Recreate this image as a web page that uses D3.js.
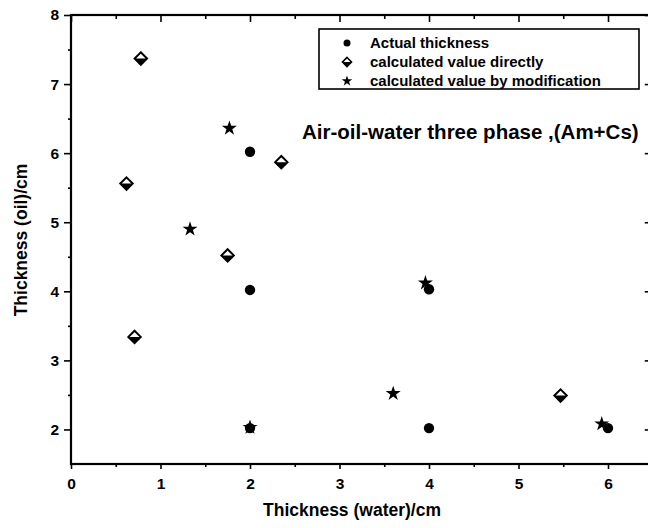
<!DOCTYPE html>
<html><head><meta charset="utf-8">
<script src="https://cdn.jsdelivr.net/npm/d3@7/dist/d3.min.js"></script>
<style>html,body{margin:0;padding:0;background:#fff;}svg{display:block;font-family:"Liberation Sans",Arial,sans-serif;}</style>
</head><body>
<svg id="c" width="648" height="528"></svg>
<script>
// ---- data ----
const actualX = [2.0, 2.0, 2.0, 4.0, 4.0, 6.0];
const actualY = [6.02, 4.02, 2.02, 4.03, 2.02, 2.02];
const directX = [0.78, 0.62, 0.71, 1.75, 2.35, 5.47];
const directY = [7.37, 5.56, 3.34, 4.52, 5.87, 2.49];
const modX = [1.77, 1.33, 2.0, 3.6, 3.96, 5.93];
const modY = [6.36, 4.9, 2.03, 2.52, 4.12, 2.08];
const seriesNames = ["Actual thickness", "calculated value directly", "calculated value by modification"];
const xTicks = [0, 1, 2, 3, 4, 5, 6];
const xMinor = [0.5, 1.5, 2.5, 3.5, 4.5, 5.5];
const yTicks = [2, 3, 4, 5, 6, 7, 8];
const yMinor = [2.5, 3.5, 4.5, 5.5, 6.5, 7.5];
const xTitle = "Thickness (water)/cm";
const yTitle = "Thickness (oil)/cm";
const annotation = "Air-oil-water three phase ,(Am+Cs)";

const svg = d3.select("#c");
const L = 71, R = 652.75, T = 15, B = 464;
const x = d3.scaleLinear().domain([0, 6.5]).range([L, R]);
const y = d3.scaleLinear().domain([1.5, 8]).range([B, T]);

function styleAxis(g) {
  g.select(".domain").remove();
  g.selectAll(".tick line").attr("stroke", "#000").attr("stroke-width", 1.6);
  g.selectAll(".tick text").attr("fill", "#000").attr("font-size", 15.5).attr("font-weight", "bold")
    .attr("font-family", "'Liberation Sans',Arial,sans-serif");
}
// bottom
svg.append("g").attr("transform", `translate(0,${B})`)
  .call(d3.axisBottom(x).tickValues(xTicks).tickSize(5).tickPadding(9).tickFormat(d3.format("d"))).call(styleAxis);
svg.append("g").attr("transform", `translate(0,${B})`)
  .call(d3.axisBottom(x).tickValues(xMinor).tickSize(3).tickFormat("")).call(styleAxis);
// left
svg.append("g").attr("transform", `translate(${L},0)`)
  .call(d3.axisLeft(y).tickValues(yTicks).tickSize(7).tickPadding(5).tickFormat(d3.format("d"))).call(styleAxis);
svg.append("g").attr("transform", `translate(${L},0)`)
  .call(d3.axisLeft(y).tickValues(yMinor).tickSize(3).tickFormat("")).call(styleAxis);
// top (inward)
svg.append("g").attr("transform", `translate(0,${T})`)
  .call(d3.axisBottom(x).tickValues(xTicks).tickSize(7).tickFormat("")).call(styleAxis);
svg.append("g").attr("transform", `translate(0,${T})`)
  .call(d3.axisBottom(x).tickValues(xMinor).tickSize(4).tickFormat("")).call(styleAxis);
// right (inward)
svg.append("g").attr("transform", `translate(${R},0)`)
  .call(d3.axisLeft(y).tickValues(yTicks).tickSize(8).tickFormat("")).call(styleAxis);
svg.append("g").attr("transform", `translate(${R},0)`)
  .call(d3.axisLeft(y).tickValues(yMinor).tickSize(4).tickFormat("")).call(styleAxis);
// frame
svg.append("rect").attr("x", L).attr("y", T).attr("width", R - L).attr("height", B - T)
  .attr("fill", "none").attr("stroke", "#000").attr("stroke-width", 2.2);

// axis titles
svg.append("text").attr("x", 352).attr("y", 516).attr("text-anchor", "middle")
  .attr("font-size", 17.5).attr("font-weight", "bold").text(xTitle);
svg.append("text").attr("transform", "translate(27,240) rotate(-90)").attr("text-anchor", "middle")
  .attr("font-size", 17.5).attr("font-weight", "bold").text(yTitle);

// markers
function drawCircle(g, cx, cy) {
  g.append("circle").attr("cx", cx).attr("cy", cy).attr("r", 5.2).attr("fill", "#000");
}
function drawDiamond(g, cx, cy) {
  const s = 6.2;
  g.append("path").attr("d", `M${cx},${cy - s}L${cx + s},${cy}L${cx},${cy + s}L${cx - s},${cy}Z`)
    .attr("fill", "#fff").attr("stroke", "#000").attr("stroke-width", 2);
  g.append("path").attr("d", `M${cx - s},${cy}L${cx + s},${cy}L${cx},${cy + s}Z`).attr("fill", "#000");
}
const star = d3.symbol().type(d3.symbolStar).size(70);
function drawStar(g, cx, cy) {
  g.append("path").attr("d", star()).attr("transform", `translate(${cx},${cy})`).attr("fill", "#000");
}
const pts = svg.append("g");
directX.forEach((v, i) => drawDiamond(pts, x(v), y(directY[i])));
actualX.forEach((v, i) => drawCircle(pts, x(v), y(actualY[i])));
modX.forEach((v, i) => drawStar(pts, x(v), y(modY[i])));

// legend
const lg = svg.append("g");
lg.append("rect").attr("x", 319).attr("y", 29).attr("width", 320).attr("height", 60)
  .attr("fill", "#fff").attr("stroke", "#000").attr("stroke-width", 1.6);
seriesNames.forEach((n, i) => {
  const ry = 43 + i * 19;
  if (i === 0) lg.append("circle").attr("cx", 347).attr("cy", ry).attr("r", 3.5).attr("fill", "#000");
  else if (i === 1) {
    const s = 4.5, cx = 347, cy = ry;
    lg.append("path").attr("d", `M${cx},${cy - s}L${cx + s},${cy}L${cx},${cy + s}L${cx - s},${cy}Z`)
      .attr("fill", "#fff").attr("stroke", "#000").attr("stroke-width", 1.6);
    lg.append("path").attr("d", `M${cx - s},${cy}L${cx + s},${cy}L${cx},${cy + s}Z`).attr("fill", "#000");
  } else lg.append("path").attr("d", d3.symbol().type(d3.symbolStar).size(35)()).attr("transform", `translate(347,${ry})`).attr("fill", "#000");
  lg.append("text").attr("x", 370).attr("y", ry + 5).attr("font-size", 15).attr("font-weight", "bold").text(n);
});

// annotation
svg.append("text").attr("x", 302).attr("y", 139).attr("font-size", 20.5).attr("font-weight", "bold").text(annotation);
</script>
</body></html>
